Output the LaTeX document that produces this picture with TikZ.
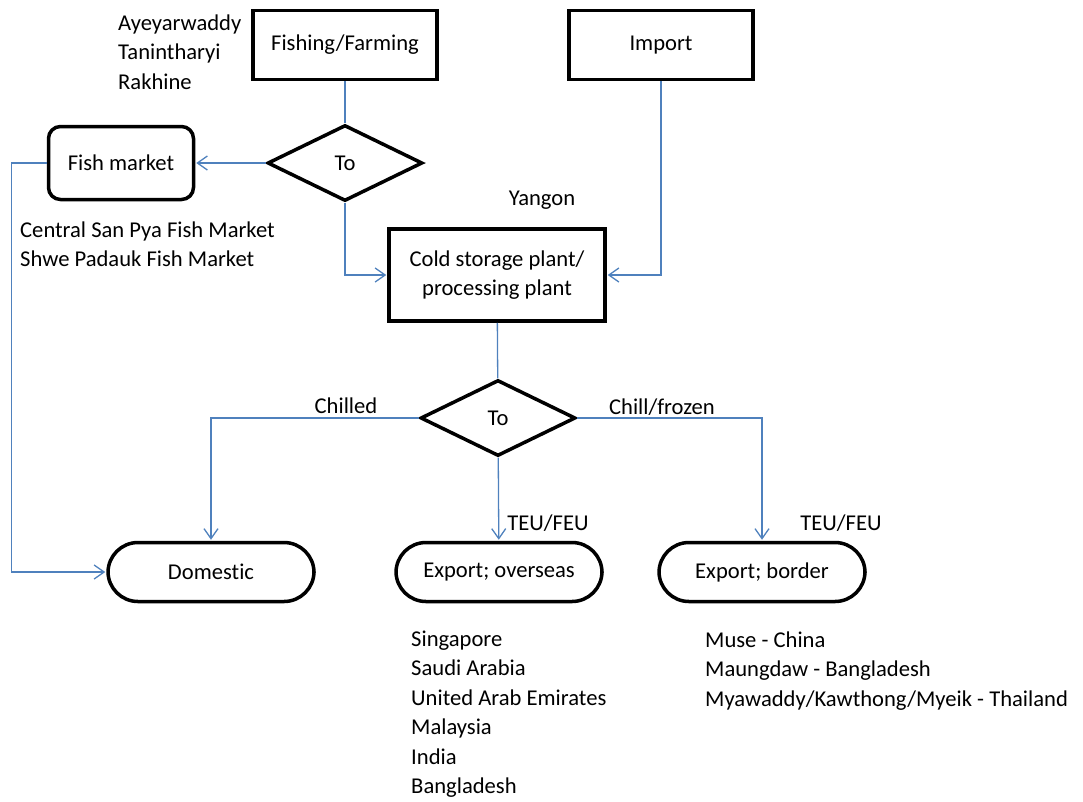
\documentclass[tikz,border=0pt]{standalone}
\usepackage{fontspec}
\setmainfont{Carlito}[Ligatures={TeX,NoCommon}]
\usetikzlibrary{shapes.geometric,arrows.meta}

\definecolor{linkblue}{RGB}{79,129,189}

\begin{document}
\begin{tikzpicture}[x=1pt,y=-1pt,
    every node/.style={font=\fontsize{22.6}{29.5}\selectfont},
    box/.style={draw,line width=3.5pt,rectangle,minimum width=184pt,minimum height=69pt},
    dia/.style={draw,line width=3.5pt,diamond,minimum width=155pt,minimum height=76pt,inner sep=0pt},
    market/.style={draw,line width=3.5pt,rectangle,rounded corners=12pt,minimum width=145pt,minimum height=73pt},
    term/.style={draw,line width=3.5pt,rectangle,rounded corners=30pt,minimum width=206pt,minimum height=59pt},
    lbl/.style={inner sep=0pt,align=left},
    link/.style={draw=linkblue,line width=1.3pt},
    arr/.style={link,-{Straight Barb[length=10pt,width=14pt,line width=1.3pt]},shorten >=1pt}]
    \useasboundingbox (0,0) rectangle (1083,801);

    % boxes
    \node[box] (fishing) at (345,45) {Fishing/Farming};
    \node[box] (import) at (661,45) {Import};
    \node[box,minimum width=216pt,minimum height=92pt,align=center] (cold) at (497,275) {Cold storage plant/\\processing plant};
    \node[dia] (to1) at (345,163) {To};
    \node[dia] (to2) at (498,418) {To};
    \node[market] (market) at (121,163) {Fish market};
    \node[term] (domestic) at (211,572) {Domestic};
    \node[term] (overseas) at (499,572) {Export; overseas};
    \node[term] (border) at (762,572) {Export; border};

    % labels
    \node[lbl,anchor=west] (regions) at (118,52) {Ayeyarwaddy\\Tanintharyi\\Rakhine};
    \node[lbl,anchor=west] (markets) at (20,244) {Central San Pya Fish Market\\Shwe Padauk Fish Market};
    \node[lbl] (yangon) at (542,200) {Yangon};
    \node[lbl] (chilled) at (346,406) {Chilled};
    \node[lbl] (frozen) at (662,407) {Chill/frozen};
    \node[lbl] (teu1) at (548,523) {TEU/FEU};
    \node[lbl] (teu2) at (841,523) {TEU/FEU};
    \node[lbl,anchor=west] (countries) at (411,714) {Singapore\\Saudi Arabia\\United Arab Emirates\\Malaysia\\India\\Bangladesh};
    \node[lbl,anchor=west] (crossings) at (705,671) {Muse - China\\Maungdaw - Bangladesh\\Myawaddy/Kawthong/Myeik - Thailand};

    % connectors
    \draw[link] (fishing) -- (to1);
    \draw[arr] (to1.west) -- (market.east);
    \draw[arr] (market.west) -- ++(-35,0) |- (domestic.west);
    \draw[arr] (to1.south) |- (cold.west);
    \draw[arr] (import.south) |- (cold.east);
    \draw[link] (cold) -- (to2);
    \draw[arr] (to2.west) -| (domestic.north);
    \draw[arr] (to2.east) -| (border.north);
    \draw[arr] (to2) -- (overseas);
\end{tikzpicture}
\end{document}
